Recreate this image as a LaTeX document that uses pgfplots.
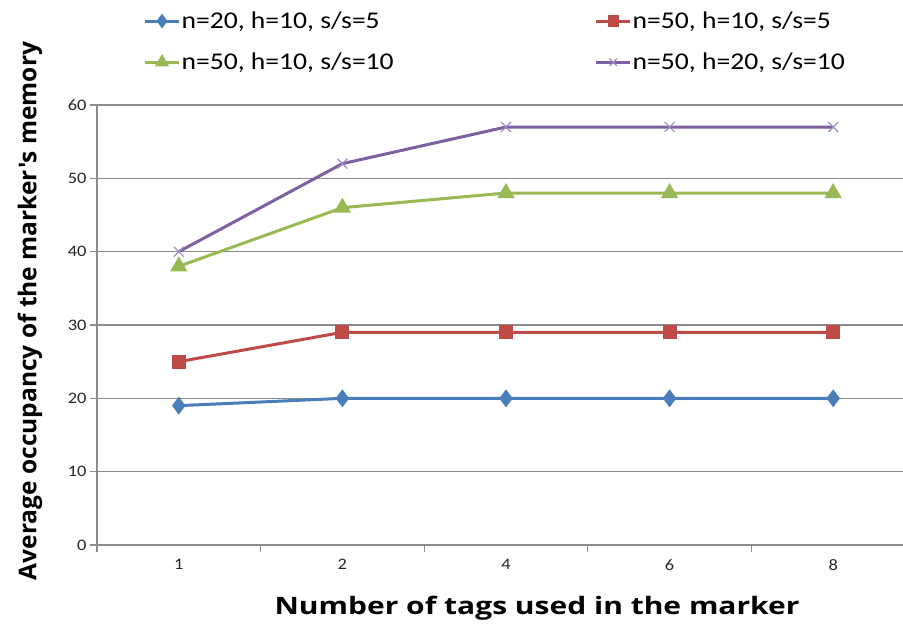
\documentclass[border=0pt]{standalone}
\usepackage{pgfplots}
\pgfplotsset{compat=1.18}
\usepackage{fontspec}
\setmainfont{Carlito}[FakeStretch=1.15]
\newfontfamily\labfont{Open Sans}
\newfontfamily\labfontx{Open Sans}[FakeStretch=1.25]
\definecolor{cblue}{HTML}{4A7EBB}
\definecolor{cred}{HTML}{BE4B48}
\definecolor{cgreen}{HTML}{98B954}
\definecolor{cpurple}{HTML}{7D60A0}
\definecolor{cpurplemk}{HTML}{A08CC4}
\definecolor{cgrid}{HTML}{8C8C8C}
\begin{document}
\begin{tikzpicture}[x=1pt,y=1pt]
\path[use as bounding box] (0,0) rectangle (903,624);
\begin{axis}[
  at={(97pt,79pt)}, anchor=south west,
  scale only axis, width=818pt, height=440pt,
  xmin=-0.5, xmax=4.5, ymin=0, ymax=60,
  axis lines*=left,
  axis line style={cgrid, line width=1.2pt},
  ytick={0,10,...,60},
  ymajorgrids, grid style={cgrid, line width=1.2pt},
  xtick={-0.5,0.5,...,4.5},
  x tick label as interval,
  xticklabels={1,2,4,6,8},
  tick align=outside, major tick length=7pt,
  tick style={cgrid, line width=1.2pt},
  /pgf/number format/assume math mode=true,
  tick label style={font=\fontsize{16}{18}\selectfont, text=black!85},
  xticklabel style={yshift=-4pt},
  xlabel={\labfontx\bfseries Number of tags used in the marker},
  ylabel={\labfont\bfseries Average occupancy of the marker's memory},
  xlabel style={font=\fontsize{24}{28}\selectfont, at={(axis description cs:0.538,-0.143)}, anchor=center},
  ylabel style={font=\fontsize{24.5}{28}\selectfont, at={(axis description cs:-0.082,0.532)}, anchor=center, rotate=0},
  legend columns=2,
  legend cell align=left,
  legend style={draw=none, fill=none, at={(axis description cs:0.053,1.221)}, anchor=north west,
    font=\fontsize{24}{28}\selectfont, row sep=19pt,
    nodes={inner xsep=1pt},
    /tikz/every even column/.append style={column sep=200pt}},
  legend image code/.code={\draw[mark repeat=2,mark phase=2,#1,every mark/.append style={scale=0.75}] plot coordinates {(0pt,0pt)(17pt,0pt)(34pt,0pt)};},
  every axis plot/.append style={line width=3pt},
]
\addplot[cblue, mark=diamond*, mark size=6.5pt, mark options={solid}] coordinates {(0,19)(1,20)(2,20)(3,20)(4,20)};
\addlegendentry{n=20, h=10, s/s=5}
\addplot[cred, mark=square*, mark size=5.5pt] coordinates {(0,25)(1,29)(2,29)(3,29)(4,29)};
\addlegendentry{n=50, h=10, s/s=5}
\addplot[cgreen, mark=triangle*, mark size=7pt] coordinates {(0,38)(1,46)(2,48)(3,48)(4,48)};
\addlegendentry{n=50, h=10, s/s=10}
\addplot[cpurple, mark=x, mark size=7pt, mark options={cpurplemk, line width=1.2pt}] coordinates {(0,40)(1,52)(2,57)(3,57)(4,57)};
\addlegendentry{n=50, h=20, s/s=10}
\end{axis}
\end{tikzpicture}
\end{document}
